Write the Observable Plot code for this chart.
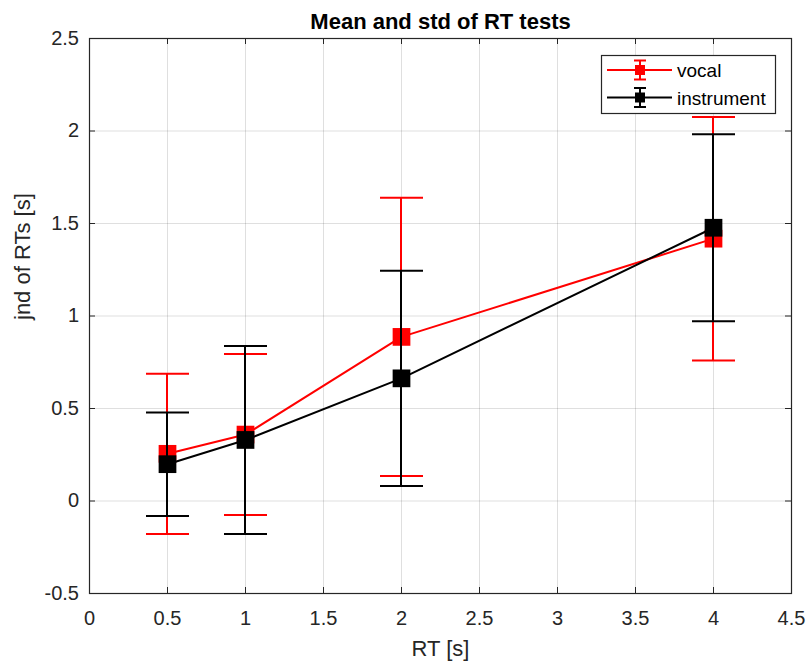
<!DOCTYPE html>
<html>
<head>
<meta charset="utf-8">
<script src="https://cdn.jsdelivr.net/npm/d3@7"></script>
<script src="https://cdn.jsdelivr.net/npm/@observablehq/plot@0.6"></script>
<style>
  html, body { margin: 0; padding: 0; background: #fff; }
  #wrap { position: relative; width: 808px; height: 663px; font-family: "Liberation Sans", Arial, sans-serif; }
  #legend { position: absolute; left: 0; top: 0; pointer-events: none; }
</style>
</head>
<body>
<div id="wrap"></div>
<script>
// ---- data ----
const rt = [0.5, 1, 2, 4];
const vocalMean = [0.255, 0.359, 0.887, 1.418];
const vocalStd = [0.433, 0.435, 0.752, 0.658];
const instrumentMean = [0.199, 0.330, 0.663, 1.477];
const instrumentStd = [0.280, 0.508, 0.582, 0.506];
const seriesNames = ["vocal", "instrument"];
const seriesColors = ["#ff0000", "#000000"];
const xTicks = [0, 0.5, 1, 1.5, 2, 2.5, 3, 3.5, 4, 4.5];
const yTicks = [-0.5, 0, 0.5, 1, 1.5, 2, 2.5];
const titleText = "Mean and std of RT tests";
const xLabel = "RT [s]";
const yLabel = "jnd of RTs [s]";

const series = [
  rt.map((x, i) => ({x, m: vocalMean[i], s: vocalStd[i]})),
  rt.map((x, i) => ({x, m: instrumentMean[i], s: instrumentStd[i]}))
];

const W = 808, H = 663;
const mL = 89, mR = 17, mT = 38, mB = 70;
const frameW = W - mL - mR, frameH = H - mT - mB;
const axisColor = "#262626";
const font = "Liberation Sans, Arial, sans-serif";

const capSymbol = {
  draw(ctx, size) {
    const w = Math.sqrt(size / Math.PI);
    ctx.moveTo(-w, 0);
    ctx.lineTo(w, 0);
  }
};

const seriesMarks = series.flatMap((data, k) => {
  const c = seriesColors[k];
  return [
    Plot.line(data, {x: "x", y: "m", stroke: c, strokeWidth: 2}),
    Plot.ruleX(data, {x: "x", y1: d => d.m - d.s, y2: d => d.m + d.s, stroke: c, strokeWidth: 2, dx: -0.5}),
    Plot.dot(data, {x: "x", y: d => d.m + d.s, symbol: capSymbol, r: 21.5, stroke: c, fill: "none", strokeWidth: 2}),
    Plot.dot(data, {x: "x", y: d => d.m - d.s, symbol: capSymbol, r: 21.5, stroke: c, fill: "none", strokeWidth: 2}),
    Plot.dot(data, {x: "x", y: "m", symbol: "square", r: 10, fill: c, stroke: "none"})
  ];
});

const chart = Plot.plot({
  width: W,
  height: H,
  marginLeft: mL,
  marginRight: mR,
  marginTop: mT,
  marginBottom: mB,
  style: {fontFamily: font, background: "#fff", overflow: "visible"},
  x: {domain: [0, 4.5]},
  y: {domain: [-0.5, 2.5]},
  marks: [
    Plot.gridX(xTicks, {stroke: axisColor, strokeOpacity: 0.15, strokeWidth: 1}),
    Plot.gridY(yTicks, {stroke: axisColor, strokeOpacity: 0.15, strokeWidth: 1}),
    ...seriesMarks,
    // inward ticks on all four sides
    Plot.tickX(xTicks, {x: d => d, insetTop: frameH - 6, stroke: axisColor}),
    Plot.tickX(xTicks, {x: d => d, insetBottom: frameH - 6, stroke: axisColor}),
    Plot.tickY(yTicks, {y: d => d, insetRight: frameW - 6, stroke: axisColor}),
    Plot.tickY(yTicks, {y: d => d, insetLeft: frameW - 6, stroke: axisColor}),
    Plot.frame({stroke: axisColor, strokeWidth: 1.2}),
    Plot.axisX({ticks: xTicks, tickSize: 0, tickPadding: 17, tickFormat: d => String(d), fontSize: 20, color: axisColor, label: null}),
    Plot.axisY({ticks: yTicks, tickSize: 0, tickPadding: 10.5, tickFormat: d => String(d), fontSize: 20, color: axisColor, label: null}),
    Plot.text([xLabel], {text: d => d, frameAnchor: "bottom", lineAnchor: "bottom", dy: 62, fontSize: 22, fill: axisColor}),
    Plot.text([yLabel], {text: d => d, frameAnchor: "left", rotate: -90, lineAnchor: "bottom", dx: -60, dy: 4, fontSize: 22, fill: axisColor}),
    Plot.text([titleText], {text: d => d, frameAnchor: "top", lineAnchor: "bottom", dy: -10, fontSize: 22, fontWeight: "bold", fill: "#000"})
  ]
});

const wrap = document.getElementById("wrap");
wrap.appendChild(chart);

// ---- legend overlay ----
const lg = d3.select(wrap).append("svg")
  .attr("id", "legend").attr("width", W).attr("height", H);
const box = {x: 601, y: 55, w: 174, h: 58};
lg.append("rect").attr("x", box.x + 0.5).attr("y", box.y + 0.5)
  .attr("width", box.w).attr("height", box.h)
  .attr("fill", "#fff").attr("stroke", axisColor).attr("stroke-width", 1.2);
seriesNames.forEach((name, k) => {
  const cy = 70 + k * 27.5;
  const c = seriesColors[k];
  const g = lg.append("g");
  g.append("line").attr("x1", 607).attr("x2", 672).attr("y1", cy).attr("y2", cy)
    .attr("stroke", c).attr("stroke-width", 2);
  g.append("line").attr("x1", 640).attr("x2", 640).attr("y1", cy - 9.5).attr("y2", cy + 9.5)
    .attr("stroke", c).attr("stroke-width", 2);
  g.append("line").attr("x1", 634).attr("x2", 646).attr("y1", cy - 9.5).attr("y2", cy - 9.5)
    .attr("stroke", c).attr("stroke-width", 2);
  g.append("line").attr("x1", 634).attr("x2", 646).attr("y1", cy + 9.5).attr("y2", cy + 9.5)
    .attr("stroke", c).attr("stroke-width", 2);
  g.append("rect").attr("x", 635).attr("y", cy - 5).attr("width", 10).attr("height", 10).attr("fill", c);
  g.append("text").attr("x", 677).attr("y", cy + 7).attr("font-size", 19)
    .attr("font-family", font).attr("fill", "#000").text(name);
});
</script>
</body>
</html>
